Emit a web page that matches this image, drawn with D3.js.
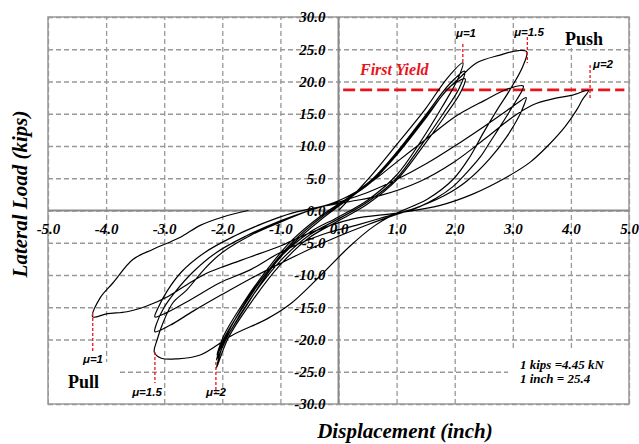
<!DOCTYPE html>
<html>
<head>
<meta charset="utf-8">
<script src="https://cdn.jsdelivr.net/npm/d3@7"></script>
<style>
body{margin:0;background:#fff;}
</style>
</head>
<body>
<div id="chart"></div>
<script>
// axis ticks
var xTicks = [-5,-4,-3,-2,-1,0,1,2,3,4,5];
var yTicks = [-30,-25,-20,-15,-10,-5,0,5,10,15,20,25,30];

// [displacement (inch), lateral load (kips)]
var cycleMu1 = [
 [0,0],[0.3,2.8],[0.6,5.8],[1.0,10.2],[1.5,15.8],[1.87,20.5],[2.14,22.9],
 [2.06,20.5],[1.78,16],[1.4,10.5],[1.0,5.5],[0.5,1.6],[0.0,-1.0],[-0.5,-3.4],[-1.0,-7.2],[-1.5,-12.8],[-1.85,-18],[-2.09,-22.4],
 [-1.98,-19.5],[-1.65,-14.5],[-1.2,-8.8],[-0.8,-4.6],[-0.3,-0.8],[0.2,2.2],[0.6,5.0],[1.0,9.0],[1.5,14.8],[1.9,19.5],[2.17,21.6],
 [2.08,19],[1.8,15],[1.4,9.8],[1.0,5.0],[0.5,1.3],[0,-1.3],[-0.5,-3.8],[-1.0,-7.8],[-1.5,-13.5],[-1.88,-19],[-2.1,-23.2],
 [-1.98,-20],[-1.63,-14.8],[-1.2,-9.2],[-0.8,-5],[-0.3,-1.1],[0.2,2],[0.6,4.7],[1.0,8.6],[1.5,14.3],[1.92,19.2],[2.18,20.4],
 [2.1,18.3],[1.82,14.5],[1.42,9.5],[1.0,4.7],[0.5,1.0],[0,-1.6],[-0.5,-4.2],[-1.0,-8.4],[-1.5,-14.2],[-1.9,-19.8],[-2.1,-24.4],
 [-1.97,-20.5],[-1.6,-15],[-1.2,-9.5],[-0.8,-5.3],[-0.3,-1.4],[0.1,1.3]
];
var cycleMu15 = [
 [0.1,1.3],[0.6,4.8],[1.0,8.8],[1.5,14.5],[1.85,18.5],[2.09,20.6],[2.38,22.9],[2.78,24.1],[3.1,24.8],[3.24,24.6],
 [3.17,22.3],[2.95,18.7],[2.73,15.6],[2.49,12.0],[2.26,8.3],[1.97,4.8],[1.52,1.7],[1.0,-0.4],
 [0.6,-2.5],[0.2,-5.5],[-0.3,-10],[-0.83,-14.5],[-1.23,-16.8],[-1.82,-19.3],[-2.38,-22.4],[-2.78,-23.0],[-3.05,-22.9],[-3.17,-22.0],
 [-3.12,-20.0],[-3.02,-17.4],[-2.85,-14.3],[-2.61,-12.3],[-2.3,-9],[-2.0,-6.5],[-1.5,-3.8],[-1.0,-1.8],[-0.5,0],[0,1.5],
 [0.5,4],[1.0,7.5],[1.5,11],[2.0,14.5],[2.5,17],[2.9,18.8],[3.18,19.3],
 [3.16,18.6],[3.07,17.2],[2.92,15],[2.78,13.0],[2.6,10.5],[2.44,8.3],[2.2,5.8],[1.97,3.7],[1.7,2],[1.4,0.6],[1.0,-0.6],
 [0.5,-2.2],[0,-4],[-0.5,-6],[-1.0,-8.2],[-1.5,-10.5],[-2.0,-13],[-2.5,-15.6],[-2.9,-17.8],[-3.16,-18.8],
 [-3.13,-17.5],[-3.0,-15],[-2.8,-12.5],[-2.5,-9.5],[-2.1,-6.5],[-1.6,-4],[-1.0,-1.6],[-0.5,0],[0,1.3],
 [0.5,2.8],[1.0,4.8],[1.5,7.2],[2.0,10],[2.5,13],[2.9,15.5],[3.1,16.8],[3.23,17.5],
 [3.2,16.5],[3.1,14.5],[2.9,11.5],[2.6,8],[2.2,4.5],[1.8,2.2],[1.3,0.3],[0.8,-1],
 [0.3,-2.3],[-0.3,-3.8],[-1.0,-6.5],[-1.52,-9.2],[-2.04,-11.2],[-2.56,-13.9],[-2.95,-15.8],[-3.16,-16.5],
 [-3.1,-15],[-2.95,-12.5],[-2.7,-9.5],[-2.3,-6.5],[-1.8,-4],[-1.3,-2],[-0.8,-0.4]
];
var cycleMu2 = [
 [-0.8,-0.4],[-0.3,0.6],[0.2,1.4],[0.71,2.3],[1.4,4.5],[1.97,7.4],[2.56,11.4],[3.0,14.5],[3.35,16.4],[3.69,17.3],[4.03,17.9],[4.3,18.6],
 [4.2,17.2],[4.1,15.6],[3.9,13],[3.6,10],[3.3,7.5],[2.9,5.2],[2.3,2.5],[1.75,0.8],[1.0,-0.4],[0.25,-1.3],
 [-0.5,-3.5],[-1.0,-5.5],[-1.52,-7.2],[-1.92,-8.5],[-2.26,-9.7],[-2.61,-11.5],[-2.95,-13.4],[-3.3,-14.8],[-3.64,-15.7],[-3.98,-16],[-4.23,-16.5],
 [-4.1,-13.5],[-3.88,-11.2],[-3.54,-7.6],[-3.19,-6.0],[-2.73,-4.2],[-2.38,-2.3],[-1.99,-1.0],[-1.55,0.0]
];

var firstYield = 18.7;
var muLabels = ["μ=1","μ=1.5","μ=2"];
var pushPeaks = [[2.14,22.9],[3.25,24.6],[4.33,18.6]];
var pullPeaks = [[-4.23,-16.5],[-3.16,-22.0],[-2.11,-23.4]];
var unitNotes = ["1 kips =4.45 kN","1 inch = 25.4"];

var width=639, height=444;
var pL=48, pR=629, pT=17, pB=404;
var serif = "'Liberation Serif','Times New Roman',serif";
var sans = "'Liberation Sans',Arial,sans-serif";

var svg = d3.select("#chart").append("svg")
	.attr("width",width)
	.attr("height",height)
	.style("background","#fff");

var x = d3.scaleLinear().domain([-5,5]).range([pL,pR]);
var y = d3.scaleLinear().domain([-30,30]).range([pB,pT]);

//dashed grid
svg.append("g")
	.attr("transform","translate(0,"+pB+")")
	.call(d3.axisBottom(x).tickValues(xTicks).tickSize(-(pB-pT)).tickFormat(""))
	.call(function(g){ g.select(".domain").remove(); })
	.selectAll("line")
	.attr("stroke","#999").attr("stroke-width",1.3).attr("stroke-dasharray","5,3");

svg.append("g")
	.attr("transform","translate("+pL+",0)")
	.call(d3.axisLeft(y).tickValues(yTicks).tickSize(-(pR-pL)).tickFormat(""))
	.call(function(g){ g.select(".domain").remove(); })
	.selectAll("line")
	.attr("stroke","#999").attr("stroke-width",1.3).attr("stroke-dasharray","5,3");

//white boxes behind text blocks
svg.append("rect").attr("x",508).attr("y",350).attr("width",pR-508-1).attr("height",pB-350-1).attr("fill","#fff");
svg.append("rect").attr("x",pL+1).attr("y",362).attr("width",118-pL-1).attr("height",pB-362-1).attr("fill","#fff");
svg.append("rect").attr("x",555).attr("y",pT+1).attr("width",60).attr("height",30).attr("fill","#fff");

//frame
svg.append("rect")
	.attr("x",pL).attr("y",pT)
	.attr("width",pR-pL).attr("height",pB-pT)
	.attr("fill","none").attr("stroke","#999").attr("stroke-width",1.5);

//zero axes
svg.append("line").attr("x1",x(0)).attr("x2",x(0)).attr("y1",pT).attr("y2",pB)
	.attr("stroke","#8a8a8a").attr("stroke-width",2);
svg.append("line").attr("x1",pL).attr("x2",pR).attr("y1",y(0)).attr("y2",y(0))
	.attr("stroke","#8a8a8a").attr("stroke-width",2);

//tick labels sit on the zero axes
var fmt = function(d){ return d.toFixed(1); };
var xAxis = svg.append("g")
	.attr("transform","translate(0,"+y(0)+")")
	.call(d3.axisBottom(x).tickValues(xTicks).tickSize(0).tickPadding(13).tickFormat(fmt));
var yAxis = svg.append("g")
	.attr("transform","translate("+x(0)+",0)")
	.call(d3.axisLeft(y).tickValues(yTicks).tickSize(0).tickPadding(13).tickFormat(fmt));
[xAxis,yAxis].forEach(function(a){
	a.select(".domain").remove();
	a.selectAll("text")
		.attr("fill","#000")
		.style("font-family",serif).style("font-size","15px")
		.style("font-weight","bold").style("font-style","italic");
});

//axis titles
svg.append("text")
	.attr("x",405).attr("y",438)
	.attr("text-anchor","middle")
	.style("font-family",serif).style("font-size","21px")
	.style("font-weight","bold").style("font-style","italic")
	.text("Displacement (inch)");
svg.append("text")
	.attr("transform","translate(27,194) rotate(-90)")
	.attr("text-anchor","middle")
	.style("font-family",serif).style("font-size","21px")
	.style("font-weight","bold").style("font-style","italic")
	.text("Lateral Load (kips)");

//first yield line
svg.append("line")
	.attr("x1",x(0.08)).attr("x2",x(4.92))
	.attr("y1",y(firstYield)).attr("y2",y(firstYield))
	.attr("stroke","#e8141b").attr("stroke-width",2.8).attr("stroke-dasharray","12,5");
svg.append("text")
	.attr("x",360).attr("y",75)
	.attr("fill","#e8141b")
	.style("font-family",serif).style("font-size","16px")
	.style("font-weight","bold").style("font-style","italic")
	.text("First Yield");

//hysteresis curve
var line = d3.line()
	.x(function(d){ return x(d[0]); })
	.y(function(d){ return y(d[1]); })
	.curve(d3.curveCatmullRom.alpha(0.5));
var record = cycleMu1.concat(cycleMu15.slice(1), cycleMu2.slice(1));
svg.append("path")
	.datum(record)
	.attr("d",line)
	.attr("fill","none")
	.attr("stroke","#000")
	.attr("stroke-width",1.2)
	.attr("stroke-linejoin","round");

//ductility markers
var topMarks = [
	{hi:44, lo:62, lx:466, ly:37},
	{hi:37, lo:63, lx:529, ly:36},
	{hi:65, lo:98, lx:603, ly:68}
];
var botMarks = [
	{hi:313, lo:351, lx:93, ly:363},
	{hi:352, lo:383, lx:147, ly:396},
	{hi:362, lo:393, lx:216, ly:396}
];
function drawMarks(peaks, marks){
	peaks.forEach(function(p,i){
		var m = marks[i];
		svg.append("line")
			.attr("x1",x(p[0])).attr("x2",x(p[0]))
			.attr("y1",m.hi).attr("y2",m.lo)
			.attr("stroke","#e8141b").attr("stroke-width",1.3).attr("stroke-dasharray","3,2");
		svg.append("text")
			.attr("x",m.lx).attr("y",m.ly)
			.attr("text-anchor","middle")
			.style("font-family",sans).style("font-size","11.5px")
			.style("font-weight","bold").style("font-style","italic")
			.text(muLabels[i]);
	});
}
drawMarks(pushPeaks, topMarks);
drawMarks(pullPeaks, botMarks);

//push / pull
svg.append("text").attr("x",565).attr("y",45)
	.style("font-family",serif).style("font-size","18px").style("font-weight","bold")
	.text("Push");
svg.append("text").attr("x",68).attr("y",388)
	.style("font-family",serif).style("font-size","18px").style("font-weight","bold")
	.text("Pull");

//unit note
svg.selectAll("text.note")
	.data(unitNotes)
	.enter()
	.append("text")
	.attr("class","note")
	.attr("x",520)
	.attr("y",function(d,i){ return 369+i*14; })
	.style("font-family",serif).style("font-size","13px")
	.style("font-weight","bold").style("font-style","italic")
	.text(function(d){ return d; });
</script>
</body>
</html>
